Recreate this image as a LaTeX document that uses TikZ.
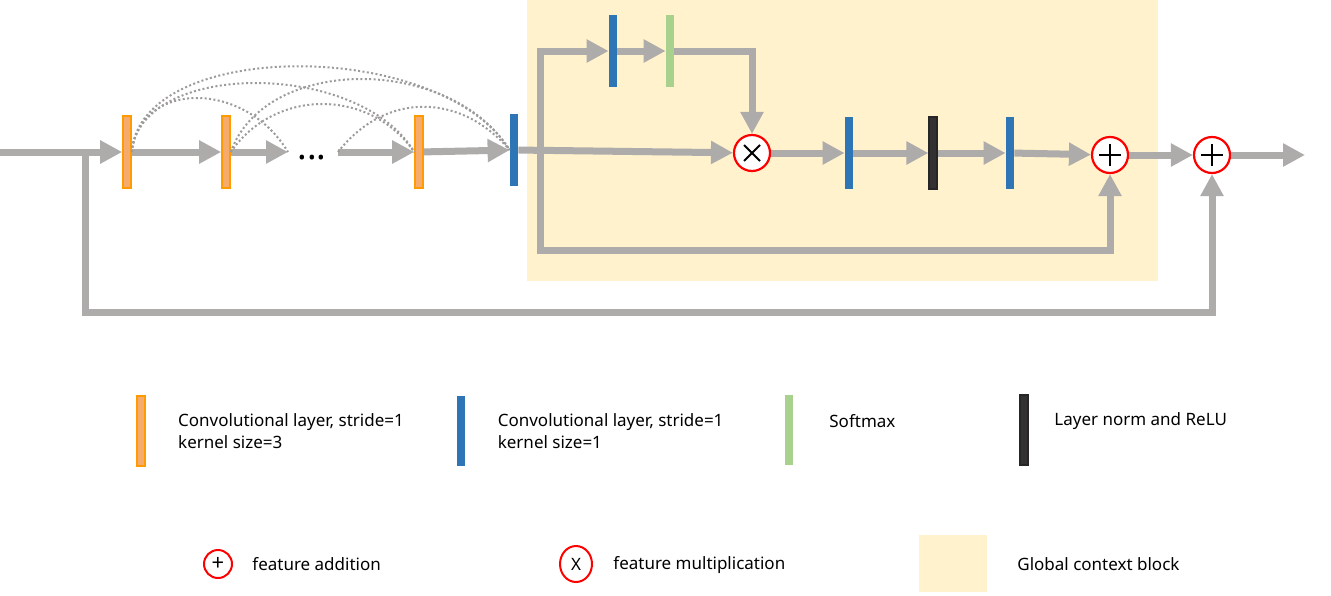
\documentclass[tikz,border=0pt]{standalone}
\usepackage{fontspec}
\setmainfont{Noto Sans}
\usetikzlibrary{arrows.meta, positioning, shapes.geometric}
\definecolor{flowgray}{HTML}{AEABAB}
\definecolor{convline}{HTML}{FF9A00}
\definecolor{convfill}{HTML}{F5AA6E}
\definecolor{pblue}{HTML}{2E75B6}
\definecolor{sgreen}{HTML}{A9D18E}
\definecolor{nblack}{HTML}{333131}
\definecolor{gcyellow}{HTML}{FFF2CC}

\begin{document}
\begin{tikzpicture}[
    x=0.5pt, y=-0.5pt,
    bar/.style={rectangle, inner sep=0pt, minimum width=4pt, minimum height=36pt},
    conv/.style={bar, fill=convfill, draw=convline, line width=0.8pt},
    pconv/.style={bar, fill=pblue},
    soft/.style={bar, fill=sgreen},
    norm/.style={bar, fill=nblack, draw=black!85, line width=0.6pt},
    flow/.style={draw=flowgray, line width=3.5pt, -{Triangle[length=11pt,width=11pt]}},
    dense/.style={draw=flowgray!90!black, line width=1pt, dash pattern=on 1pt off 1.2pt},
    op/.style={circle, draw=red, fill=white, line width=1.1pt, minimum size=18pt, inner sep=0pt},
    addop/.style={op, path picture={
        \draw[black, line width=1pt] ([xshift=-5.5pt]path picture bounding box.center) -- ([xshift=5.5pt]path picture bounding box.center)
            ([yshift=-5.5pt]path picture bounding box.center) -- ([yshift=5.5pt]path picture bounding box.center);}},
    mulop/.style={op, path picture={
        \draw[black, line width=1pt] ([shift={(-4pt,-4pt)}]path picture bounding box.center) -- ([shift={(4pt,4pt)}]path picture bounding box.center)
            ([shift={(-4pt,4pt)}]path picture bounding box.center) -- ([shift={(4pt,-4pt)}]path picture bounding box.center);}},
    legtext/.style={anchor=west, inner sep=0pt, align=left, font=\fontsize{8.5}{11}\selectfont},
    legbar/.style={minimum height=35pt}
]
\useasboundingbox (0,0) rectangle (1331,595);

% global context block
\fill[gcyellow] (527,0) rectangle (1158,281);

% dense part
\node[conv] (c1) at (127,152) {};
\node[conv] (c2) at (226,152) {};
\coordinate (e1) at (288,152);
\node[font=\fontsize{18}{18}\selectfont\bfseries, anchor=base] (dots) at (312,159) {...};
\coordinate (e2) at (338,152);
\node[conv] (c3) at (419,152) {};
\node[pconv] (b1) at (514,150) {};

% global context part
\coordinate (br) at (540,152);
\coordinate (gb) at (540,250);
\node[pconv] (b2) at (613,51) {};
\node[soft] (sm) at (670,51) {};
\node[mulop] (mul) at (752,153) {};
\node[pconv] (b3) at (849,153) {};
\node[norm] (ln) at (933,153) {};
\node[pconv] (b4) at (1010,153) {};
\node[addop] (add1) at (1110,155) {};
\node[addop] (add2) at (1212,155) {};
\coordinate (out) at (1305,155);

\coordinate (in) at (0,152);
\coordinate (sk) at (85,152);
\coordinate (sb) at (85,312);

\draw[flow] (in) -- (c1);
\draw[flow] (c1) -- (c2);
\draw[flow] (c2) -- (e1);
\draw[flow] (e2) -- (c3);
\draw[flow] (c3) -- (b1);
\draw[flow] (b1) -- (mul);
\draw[flow] (br) |- (b2);
\draw[flow] (b2) -- (sm);
\draw[flow] (sm) -| (mul);
\draw[flow] (mul) -- (b3);
\draw[flow] (b3) -- (ln);
\draw[flow] (ln) -- (b4);
\draw[flow] (b4) -- (add1);
\draw[flow] (add1) -- (add2);
\draw[flow] (add2) -- (out);
\draw[flow] (br) -- (gb) -| (add1);
\draw[flow] (sk) -- (sb) -| (add2);

% dense links
\draw[dense] (c1.east) .. controls (140,38) and (440,38) .. (b1.west);
\draw[dense] (c1.east) .. controls (140,60) and (360,60) .. (c3.west);
\draw[dense] (c1.east) .. controls (140,80) and (245,80) .. (e1);
\draw[dense] (c2.east) .. controls (265,55) and (450,55) .. (b1.west);
\draw[dense] (c2.east) .. controls (275,88) and (370,88) .. (c3.west);
\draw[dense] (e2) .. controls (385,92) and (460,92) .. (b1.west);

% legend
\node[conv, legbar] (lo) at (141,431) {};
\node[legtext, right=16pt of lo] (lot) {Convolutional layer, stride=1\\kernel size=3};
\node[pconv, legbar] (lb) at (461,431) {};
\node[legtext, right=16pt of lb] (lbt) {Convolutional layer, stride=1\\kernel size=1};
\node[soft, legbar] (lg) at (789,430) {};
\node[legtext] (lgt) at (829,421) {Softmax};
\node[norm, legbar] (lk) at (1024,430) {};
\node[legtext] (lkt) at (1054,421) {Layer norm and ReLU};

\node[circle, draw=red, line width=1pt, minimum size=14pt, inner sep=0pt, font=\fontsize{11}{11}\selectfont] (la) at (218,564) {+};
\node[legtext] (lat) at (252,564) {feature addition};
\node[ellipse, draw=red, line width=1pt, minimum width=16pt, minimum height=18pt, inner sep=0pt, font=\fontsize{8.5}{10}\selectfont] (lm) at (576,564) {X};
\node[legtext] (lmt) at (613,565) {feature multiplication};
\node[fill=gcyellow, minimum width=34pt, minimum height=28.5pt, inner sep=0pt] (lc) at (953,563.5) {};
\node[legtext] (lct) at (1017,564) {Global context block};
\end{tikzpicture}
\end{document}
